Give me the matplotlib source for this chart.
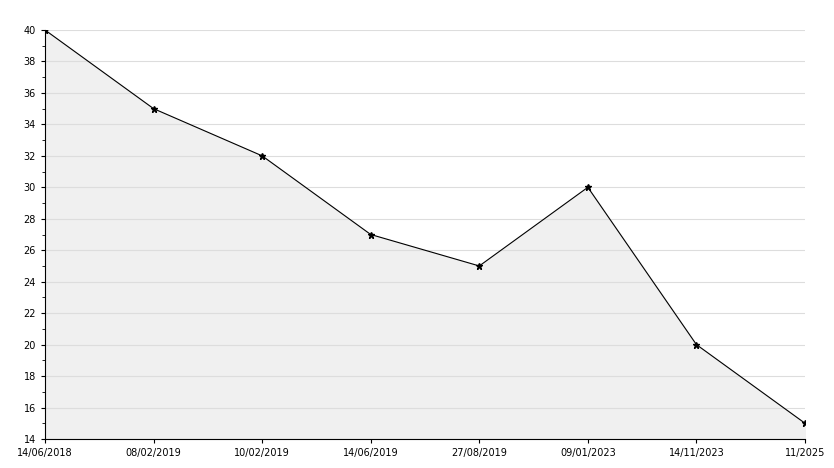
import matplotlib
matplotlib.use("Agg")
import matplotlib.pyplot as plt
import numpy as np

dates = ["14/06/2018", "08/02/2019", "10/02/2019", "14/06/2019",
         "27/08/2019", "09/01/2023", "14/11/2023", "11/2025"]
values = [40, 35, 32, 27, 25, 30, 20, 15]

fig = plt.figure(figsize=(8.34, 4.68), dpi=100)
ax = fig.add_axes([45 / 834, 29 / 468, 760 / 834, 409 / 468])

x = np.arange(len(values))
ax.fill_between(x, values, 14, color="#f0f0f0", zorder=1)
ax.plot(x, values, color="black", lw=0.8, marker="*", markersize=5, zorder=3)

ax.set_xlim(0, len(values) - 1)
ax.set_ylim(14, 40)
ax.set_yticks(range(14, 41, 2))
ax.set_yticks(range(15, 40, 2), minor=True)
ax.set_xticks(x)
ax.set_xticklabels(dates)
ax.grid(axis="y", color="#dddddd", lw=0.8, zorder=0)
ax.tick_params(labelsize=7, length=3, direction="out")
ax.tick_params(which="minor", length=2)
for s in ["top", "right"]:
    ax.spines[s].set_visible(False)

fig.savefig("out.png", dpi=100)
